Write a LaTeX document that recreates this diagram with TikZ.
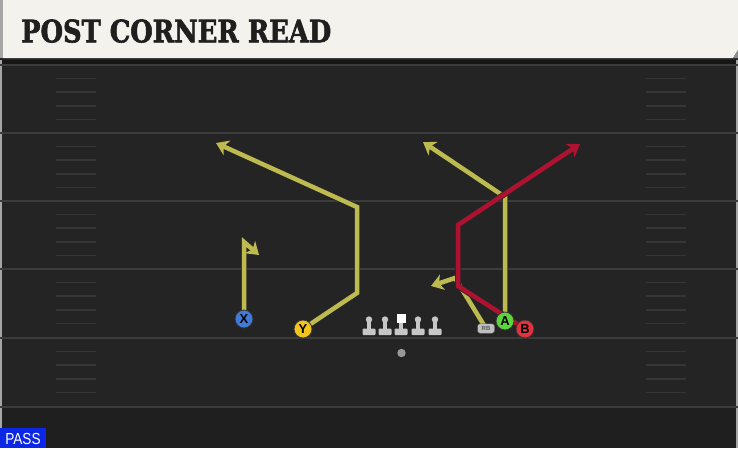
\documentclass[tikz,border=0pt]{standalone}
\usepackage{fontspec}
\newfontfamily\titlefont{DejaVu Serif}[BoldFeatures={FakeBold=2}]
\newfontfamily\tagfont{Liberation Sans}
\usetikzlibrary{arrows.meta,calc}
\definecolor{field}{RGB}{36,36,36}
\definecolor{yardline}{RGB}{60,60,60}
\definecolor{hashline}{RGB}{54,54,54}
\definecolor{header}{RGB}{244,242,236}
\definecolor{routeyellow}{RGB}{189,187,80}
\definecolor{routered}{RGB}{175,18,48}
\definecolor{xblue}{RGB}{62,122,214}
\definecolor{yyellow}{RGB}{243,196,27}
\definecolor{agreen}{RGB}{92,212,62}
\definecolor{bred}{RGB}{226,50,62}
\definecolor{passblue}{RGB}{12,40,230}
\def\lineman(#1){%
  \fill[black!22] (#1-2,320) rectangle (#1+2,329);
  \fill[black!22,rounded corners=1pt] (#1-6.5,328.5) rectangle (#1+6.5,335);
  \fill[black!22] (#1,319.5) circle (3.2);}
\tikzset{
  route/.style={line width=4.5pt,preaction={draw,line width=6pt,black!85}},
  tip/.style={-{Stealth[length=12pt,width=16pt,inset=3.5pt]}},
  player/.style={circle,draw=black!80,line width=0.8pt,minimum size=18pt,inner sep=0pt,
    font=\tagfont\bfseries\fontsize{13}{13}\selectfont}
}
\begin{document}
\begin{tikzpicture}[x=1pt,y=-1pt]
			%%%%% FIELD %%%%%
			\useasboundingbox (0,0) rectangle (738,448);
			\fill[field] (0,0) rectangle (738,448);
			\fill[black!15!field] (0,408) rectangle (738,448);
			\fill[black!40!field] (0,60) rectangle (738,65);
			\draw[black!35,line width=1.5pt] (1,60) -- (1,448);
			\draw[black!35,line width=1.5pt] (737,60) -- (737,448);
			\foreach \yy in {65,133,201,269,338,407}
				\draw[yardline,line width=2pt] (0,\yy) -- (738,\yy);
			\foreach \yy in {65,133,201,269,338}
				\foreach \k in {1,...,4} {
					\draw[hashline,line width=1.5pt] (56,\yy+13.6*\k) -- (96,\yy+13.6*\k);
					\draw[hashline,line width=1.5pt] (646,\yy+13.6*\k) -- (686,\yy+13.6*\k);
				}
			
			%%%%% HEADER %%%%%
			\fill[header] (3,0) -- (738,0) -- (738,50) -- (733,58) -- (3,58) -- cycle;
			\fill[black!35] (0,0) rectangle (3,58);
			\fill[black!45] (738,50) -- (733,58) -- (738,58) -- cycle;
			\node[anchor=south west,inner sep=0pt,text=black!88] (title) at (21,43)
				{\resizebox{310pt}{23pt}{\titlefont\bfseries POST CORNER READ}};
			
			%%%%% ROUTE POINTS %%%%%
			\coordinate (xpos) at (244,319);
			\coordinate (ypos) at (303,329);
			\coordinate (apos) at (505,321);
			\coordinate (bpos) at (525,329);
			\coordinate (rbpos) at (486,328.5);
			\coordinate (xtop) at (244,242);
			\coordinate (xend) at (259,255);
			\coordinate (ybreak) at (357,293);
			\coordinate (ytop) at (357,207);
			\coordinate (yend) at (216,143);
			\coordinate (atop) at (505,197);
			\coordinate (aend) at (423,142);
			\coordinate (rbturn) at (455,278);
			\coordinate (rbend) at (431,286);
			\coordinate (blow) at (458,286);
			\coordinate (bhigh) at (458,225);
			\coordinate (bend) at (580,144);
			
			%%%%% ROUTES %%%%%
			\draw[route,routeyellow,tip] (xpos) -- (xtop) -- (xend);
			\draw[route,routeyellow,tip] (ypos) -- (ybreak) -- (ytop) -- (yend);
			\draw[route,routeyellow,tip] (rbpos) -- (rbturn) -- (rbend);
			\draw[route,routeyellow,tip] (apos) -- (atop) -- (aend);
			\draw[route,routered,tip] (bpos) -- (blow) -- (bhigh) -- (bend);
			
			%%%%% LINE %%%%%
			\lineman(369)
			\lineman(385)
			\lineman(418)
			\lineman(435)
			\fill[black!22] (399,320) rectangle (403,329);
			\fill[black!22,rounded corners=1pt] (394.5,328.5) rectangle (407.5,335);
			\fill[white] (396.5,314) rectangle (405.5,323);
			\fill[black!40] (401.5,353) circle (4.2);
			
			%%%%% PLAYERS %%%%%
			\node[draw=black!70,fill=black!25,rounded corners=2.5pt,minimum width=17pt,minimum height=9.5pt,
				inner sep=0pt,text=black!65,font=\tagfont\bfseries\fontsize{6}{6}\selectfont] (rb) at (rbpos) {RB};
			\node[player,fill=xblue] (x) at (xpos) {X};
			\node[player,fill=yyellow] (y) at (ypos) {Y};
			\node[player,fill=agreen] (a) at (apos) {A};
			\node[player,fill=bred] (b) at (bpos) {B};
			
			%%%%% PLAY TYPE %%%%%
			\fill[passblue] (0,428) rectangle (46,448);
			\node[text=white,inner sep=0pt,anchor=center,font=\tagfont\fontsize{16}{16}\selectfont] (pass) at (23,438.5)
				{\scalebox{0.85}[1]{PASS}};
\end{tikzpicture}
\end{document}
